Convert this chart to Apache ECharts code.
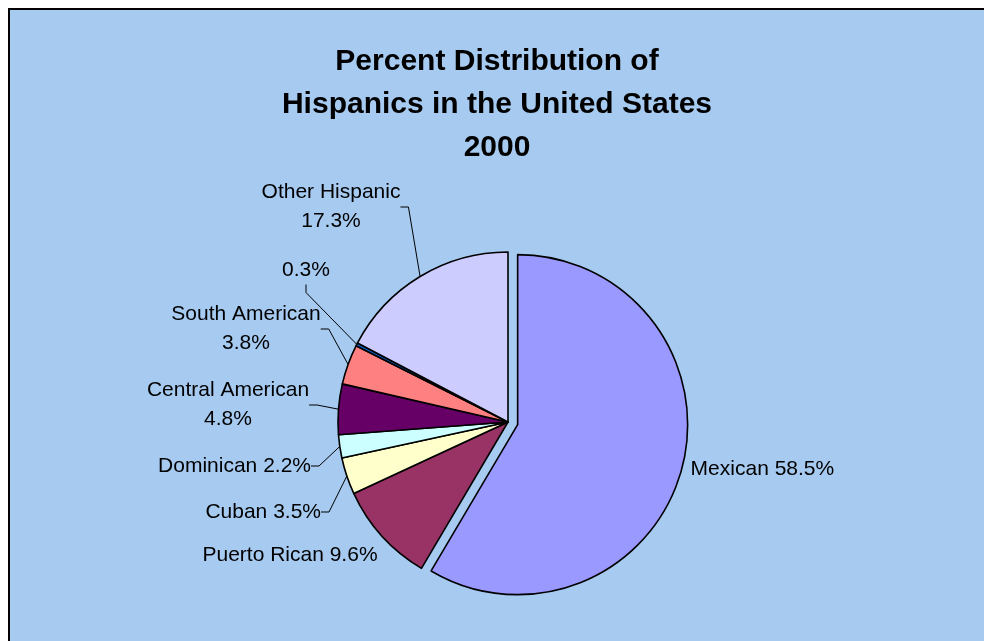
<!DOCTYPE html>
<html>
<head>
<meta charset="utf-8">
<script src="https://cdn.jsdelivr.net/npm/echarts@6/dist/echarts.min.js"></script>
<style>
  html, body { margin: 0; padding: 0; background: #fff; }
  #chart { width: 984px; height: 641px; }
</style>
</head>
<body>
<div id="chart"></div>
<script>
// values
const groups = ["Mexican", "Puerto Rican", "Cuban", "Dominican", "Central American", "South American", "Spaniard", "Other Hispanic"];
const percents = [58.5, 9.6, 3.5, 2.2, 4.8, 3.8, 0.3, 17.3];
const labelTexts = [
  "Mexican 58.5%",
  "Puerto Rican 9.6%",
  "Cuban 3.5%",
  "Dominican 2.2%",
  "Central American\n4.8%",
  "South American\n3.8%",
  "0.3%",
  "Other Hispanic\n17.3%",
];
const sliceColors = ["#9999FF", "#993366", "#FFFFCC", "#CCFFFF", "#660066", "#FF8080", "#0066CC", "#CCCCFF"];

// where each label sits (page pixels) — Excel placed these by hand.
// the exploded Mexican label keeps the pie's own outside placement
const labelSpots = [
  null,
  { x: 290, y: 555, align: "center" },
  { x: 321, y: 512, align: "right" },
  { x: 311, y: 466, align: "right" },
  { x: 228, y: 405, align: "center" },
  { x: 246, y: 329, align: "center" },
  { x: 306, y: 270, align: "center" },
  { x: 331, y: 207, align: "center" },
];
const noLeader = [0, 1];

const font = "'Liberation Sans', Arial, sans-serif";
const chart = echarts.init(document.getElementById("chart"));

const option = {
  backgroundColor: "#ffffff",
  animation: false,
  graphic: {
    elements: [
      {
        type: "rect",
        z: -10,
        silent: true,
        shape: { x: 9, y: 9, width: 1400, height: 1000 },
        style: { fill: "#A6CAF0", stroke: "#000000", lineWidth: 2 },
      },
    ],
  },
  title: {
    text: "Percent Distribution of\nHispanics in the United States\n2000",
    left: 497,
    top: 40,
    padding: 0,
    textAlign: "center",
    textStyle: {
      fontFamily: font,
      fontSize: 30,
      fontWeight: "bold",
      color: "#000000",
      lineHeight: 43,
    },
  },
  series: [
    {
      type: "pie",
      center: [508, 422],
      radius: 170,
      startAngle: 90,
      clockwise: true,
      selectedMode: "single",
      selectedOffset: 10,
      avoidLabelOverlap: false,
      itemStyle: { borderColor: "#000000", borderWidth: 1.6 },
      emphasis: { disabled: true },
      label: {
        show: true,
        position: "outside",
        fontFamily: font,
        fontSize: 21,
        lineHeight: 29,
        color: "#000000",
        align: "center",
        formatter: (p) => labelTexts[p.dataIndex],
      },
      labelLine: {
        show: true,
        length: 10,
        length2: 8,
        lineStyle: { color: "#000000", width: 1 },
      },
      labelLayout: (params) => {
        const s = labelSpots[params.dataIndex];
        if (!s) return {};
        return { x: s.x, y: s.y, align: s.align, verticalAlign: "middle" };
      },
      data: groups.map((name, i) => {
        const item = {
          name,
          value: percents[i],
          selected: i === 0,
          itemStyle: { color: sliceColors[i] },
          select: { itemStyle: { color: sliceColors[i], borderColor: "#000000", borderWidth: 1.6 } },
          labelLine: { show: noLeader.indexOf(i) < 0 },
        };
        if (i === 0) {
          item.labelLine = { show: false, length: 0, length2: 0 };
          item.label = { distanceToLabelLine: 9, offset: [0, 5] };
        }
        return item;
      }),
    },
  ],
};

chart.setOption(option);
</script>
</body>
</html>
